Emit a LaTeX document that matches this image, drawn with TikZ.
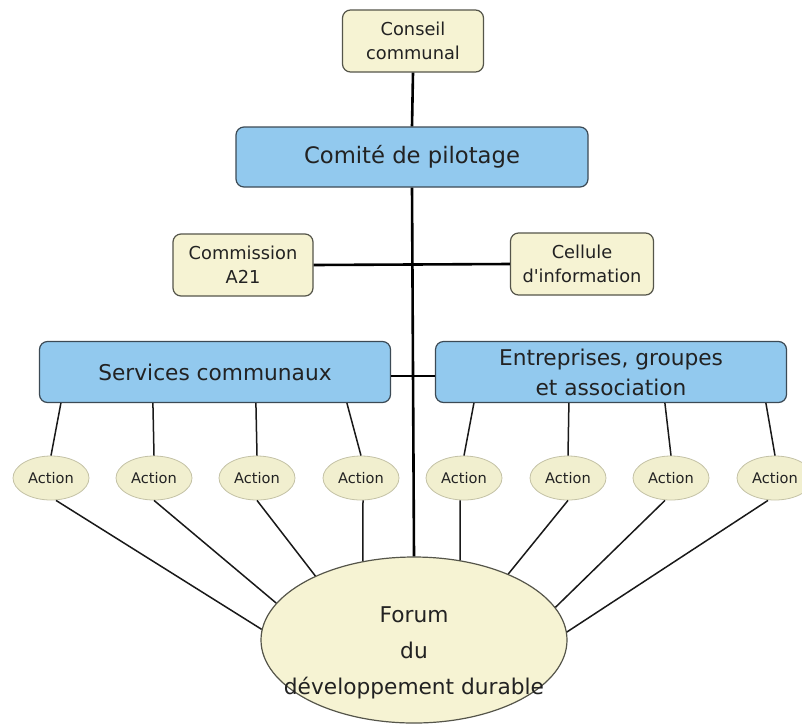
\documentclass[tikz,border=0pt]{standalone}
\usepackage{fontspec}
\setmainfont{DejaVu Sans}
\usetikzlibrary{shapes.geometric,calc}
\definecolor{beigefill}{HTML}{F6F3D3}
\definecolor{beigeline}{HTML}{55554A}
\definecolor{bluefill}{HTML}{92C9EE}
\definecolor{blueline}{HTML}{3C4A55}
\definecolor{actfill}{HTML}{F1EFCF}
\definecolor{actline}{HTML}{C4C2A6}
\definecolor{txt}{HTML}{222222}
\tikzset{
  smallbox/.style={draw=beigeline, fill=beigefill, rounded corners=8pt, line width=1.2pt,
    align=center, text=txt, font=\fontsize{17.8}{24}\selectfont, inner sep=0pt},
  bigbox/.style={draw=blueline, fill=bluefill, rounded corners=8pt, line width=1.2pt,
    align=center, text=txt, font=\fontsize{21.7}{30}\selectfont, inner sep=0pt,
    minimum width=351pt, minimum height=61pt},
  actnode/.style={ellipse, draw=actline, fill=actfill, line width=0.8pt, text=txt,
    font=\fontsize{14.6}{16}\selectfont, inner sep=0pt, minimum width=76pt, minimum height=44pt},
  forumnode/.style={ellipse, draw=beigeline, fill=beigefill, line width=1.2pt,
    inner sep=0pt, minimum width=306pt, minimum height=166pt},
  forumtext/.style={align=center, text=txt, font=\fontsize{21.7}{36}\selectfont, inner sep=0pt},
  trunk/.style={line width=2.6pt, draw=black},
  link/.style={line width=1.5pt, draw=black!90},
}
\begin{document}
\begin{tikzpicture}[x=1pt,y=-1pt]
\useasboundingbox[fill=white] (0,0) rectangle (802,726);
% nodes
\node[smallbox, minimum width=141pt, minimum height=62pt] (cc) at (413,41) {Conseil\\communal};
\node[bigbox, minimum width=352pt, minimum height=60pt, font=\fontsize{22.7}{30}\selectfont] (cp) at (412,157) {Comité de pilotage};
\node[smallbox, minimum width=140pt, minimum height=62pt] (ca) at (243,265) {Commission\\A21};
\node[smallbox, minimum width=143pt, minimum height=62pt] (ci) at (582,264) {Cellule\\d\textquotesingle information};
\node[forumnode] (forum) at (414,640) {};
\node[forumtext] (forumlbl) at (414,653) {Forum\\du\\développement durable};
% trunk
\draw[trunk] (cc.south) -- (cp.north);
\draw[trunk] (cp.south) -- (forum.north);
\draw[trunk] (ca.east) -- (ci.west);
\node[bigbox] (sc) at (215,372) {Services communaux};
\node[bigbox] (ep) at (611,372) {Entreprises, groupes\\et association};
\draw[trunk] ([yshift=-4pt]sc.east) -- ([yshift=-4pt]ep.west);
% actions
\foreach \i/\x in {1/51,2/154,3/257,4/361,5/464,6/568,7/671,8/775}{
  \node[actnode] (a\i) at (\x,478) {Action};
}
% upper links
\draw[link] ([xshift=22pt]sc.south west) -- (a1.north);
\draw[link] ([xshift=114pt]sc.south west) -- (a2.north);
\draw[link] ([xshift=217pt]sc.south west) -- (a3.north);
\draw[link] ([xshift=308pt]sc.south west) -- (a4.north);
\draw[link] ([xshift=39pt]ep.south west) -- (a5.north);
\draw[link] ([xshift=134pt]ep.south west) -- (a6.north);
\draw[link] ([xshift=230pt]ep.south west) -- (a7.north);
\draw[link] ([xshift=331pt]ep.south west) -- (a8.north);
% lower links
\draw[link] ([xshift=5pt]a1.south) -- (forum.176);
\draw[link] (a2.south) -- (forum.165);
\draw[link] (a3.south) -- (forum.147);
\draw[link] ([xshift=2pt]a4.south) -- (forum.123);
\draw[link] ([xshift=-4pt]a5.south) -- (forum.60);
\draw[link] (a6.south) -- (forum.35);
\draw[link] ([xshift=-6pt]a7.south) -- (forum.13);
\draw[link] ([xshift=-7pt]a8.south) -- (forum.3);
\end{tikzpicture}
\end{document}
